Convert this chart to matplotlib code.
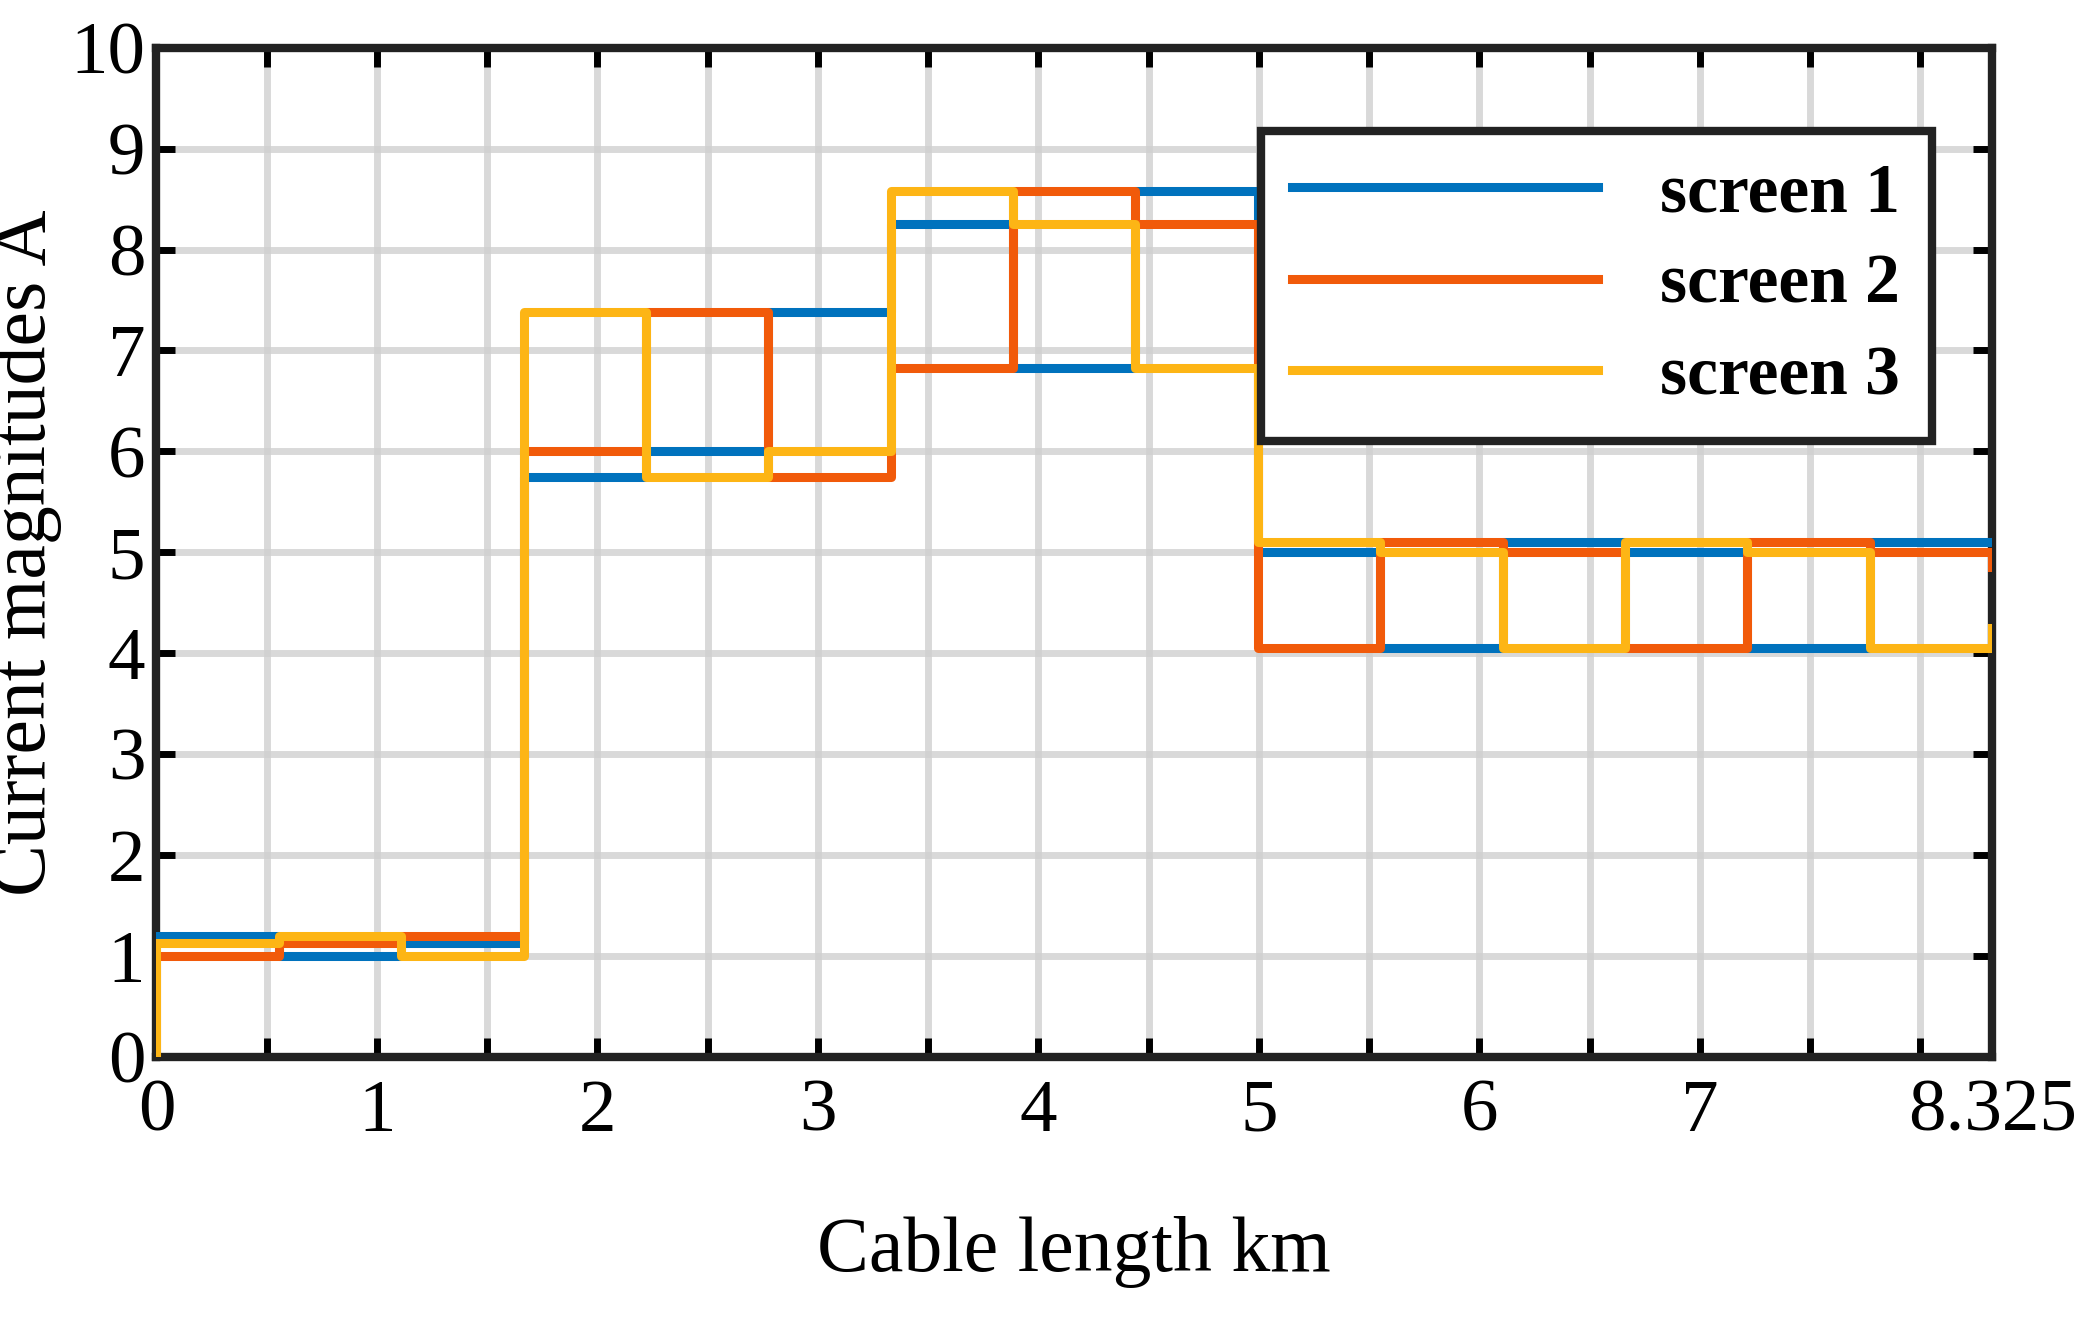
import matplotlib
matplotlib.use("Agg")
import matplotlib.pyplot as plt
import numpy as np

plt.rcParams['font.family'] = ['Liberation Serif', 'DejaVu Serif']

seg_len = 0.555
n_seg = 15
blue = [1.2, 1.0, 1.13, 5.75, 6.0, 7.38, 8.25, 6.83, 8.58, 5.0, 4.05, 5.1, 5.0, 4.05, 5.1]
red = [1.0, 1.13, 1.2, 6.0, 7.38, 5.75, 6.83, 8.58, 8.25, 4.05, 5.1, 5.0, 4.05, 5.1, 5.0]
yellow = [1.13, 1.2, 1.0, 7.38, 5.75, 6.0, 8.58, 8.25, 6.83, 5.1, 5.0, 4.05, 5.1, 5.0, 4.05]
end_vals = {'blue': 5.1, 'red': 4.85, 'yellow': 4.25}
labels = ['screen 1', 'screen 2', 'screen 3']
colors = ['#0072BD', '#F15A0A', '#FDB515']
xtick_vals = [0, 1, 2, 3, 4, 5, 6, 7, 8.325]
xtick_labels = ['0', '1', '2', '3', '4', '5', '6', '7', '8.325']

fig = plt.figure(figsize=(20.86, 13.23), dpi=100)
ax = fig.add_axes([0.075, 0.201, 0.880, 0.763])

edges = np.arange(n_seg + 1) * seg_len
for vals, key, lab, c in zip([blue, red, yellow], ['blue', 'red', 'yellow'], labels, colors):
    xs = [0.0]; ys = [0.0]
    for i, v in enumerate(vals):
        xs += [edges[i], edges[i + 1]]
        ys += [v, v]
    xs.append(edges[-1]); ys.append(end_vals[key])
    ax.plot(xs, ys, color=c, lw=6.5, label=lab, solid_joinstyle='round', zorder=3)

ax.set_xlim(0, 8.325)
ax.set_ylim(0, 10)
ax.set_xticks(xtick_vals)
ax.set_xticklabels(xtick_labels)
minor = [v for v in np.arange(0.5, 8.5, 0.5) if v not in xtick_vals]
ax.set_xticks(minor, minor=True)
ax.tick_params(axis='x', which='both', direction='in', length=14, width=5,
               labelsize=54, pad=16, top=True)
ax.set_yticks(range(11))
ax.tick_params(axis='y', direction='in', length=14, width=5, labelsize=54, pad=8, right=True)
ax.grid(True, which='both', color='#d0d0d0', lw=5, alpha=0.8, zorder=0)
for s in ax.spines.values():
    s.set_linewidth(6)
    s.set_color('#222222')

ax.set_xlabel('Cable length km', fontsize=56, labelpad=50)
ax.set_ylabel('Current magnitudes A', fontsize=56, labelpad=6)

leg = ax.legend(loc='upper right', bbox_to_anchor=(0.986, 0.952),
                prop={'weight': 'bold', 'size': 50}, frameon=True, fancybox=False,
                handlelength=4.4, borderpad=0.45, labelspacing=0.4, handletextpad=0.9)
leg.get_frame().set_edgecolor('#222222')
leg.get_frame().set_linewidth(6)
leg.get_frame().set_alpha(1)

fig.savefig('out.png', dpi=100)
